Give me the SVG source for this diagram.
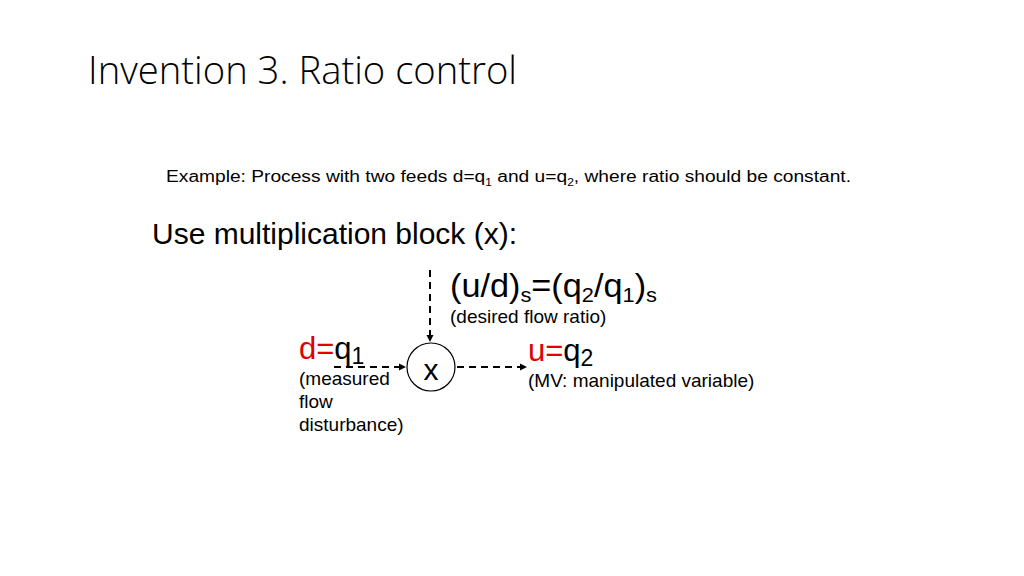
<svg xmlns="http://www.w3.org/2000/svg" width="1024" height="576" viewBox="0 0 1024 576">
<style>
.t{font-family:"Liberation Sans",Arial,sans-serif;fill:#000}
.r{fill:#e00000}
.s{font-size:19px}
.c{stroke:#000;stroke-width:2;stroke-dasharray:7,5;fill:none}
</style>
<defs>
<marker id="ah" markerWidth="8" markerHeight="8" refX="7" refY="4" orient="auto" markerUnits="userSpaceOnUse">
<path d="M0,0.5 L7,4 L0,7.5 z" fill="#000"/>
</marker>
</defs>
<rect width="1024" height="576" fill="#fff"/>
<text id="title" x="88" y="84" font-family="'Open Sans','Noto Sans',sans-serif" font-weight="300" font-size="38" fill="#000" textLength="429" lengthAdjust="spacingAndGlyphs">Invention 3. Ratio control</text>
<text id="example" class="t" x="166" y="182" font-size="16" textLength="685" lengthAdjust="spacingAndGlyphs">Example: Process with two feeds d=q<tspan font-size="10" dy="4">1</tspan><tspan dy="-4"> and u=q</tspan><tspan font-size="10" dy="4">2</tspan><tspan dy="-4">, where ratio should be constant.</tspan></text>
<text id="use" class="t" x="152" y="244" font-size="30" textLength="365" lengthAdjust="spacingAndGlyphs">Use multiplication block (x):</text>
<g id="connectors">
<line class="c" x1="430" y1="270" x2="430" y2="342" marker-end="url(#ah)"/>
<line class="c" x1="334" y1="367" x2="406" y2="367" marker-end="url(#ah)"/>
<line class="c" x1="457" y1="367" x2="527" y2="367" marker-end="url(#ah)"/>
</g>
<g id="mult">
<circle cx="431" cy="367" r="24" fill="#fff" stroke="#000" stroke-width="1.2"/>
<text class="t" x="431" y="380" font-size="30" text-anchor="middle">x</text>
</g>
<g id="setpoint">
<text class="t" x="450" y="297" font-size="33" textLength="207" lengthAdjust="spacingAndGlyphs">(u/d)<tspan font-size="21" dy="5">s</tspan><tspan dy="-5">=(q</tspan><tspan font-size="21" dy="5">2</tspan><tspan dy="-5">/q</tspan><tspan font-size="21" dy="5">1</tspan><tspan dy="-5">)</tspan><tspan font-size="21" dy="5">s</tspan></text>
<text class="t s" x="450" y="323">(desired flow ratio)</text>
</g>
<g id="disturbance">
<text class="t" x="299" y="359" font-size="31"><tspan class="r">d=</tspan>q<tspan font-size="23" dy="5">1</tspan></text>
<text class="t s" x="299" y="385">(measured</text>
<text class="t s" x="299" y="408">flow</text>
<text class="t s" x="299" y="431">disturbance)</text>
</g>
<g id="mv">
<text class="t" x="528" y="361" font-size="31"><tspan class="r">u=</tspan>q<tspan font-size="23" dy="5">2</tspan></text>
<text class="t s" x="528" y="387">(MV: manipulated variable)</text>
</g>
</svg>
